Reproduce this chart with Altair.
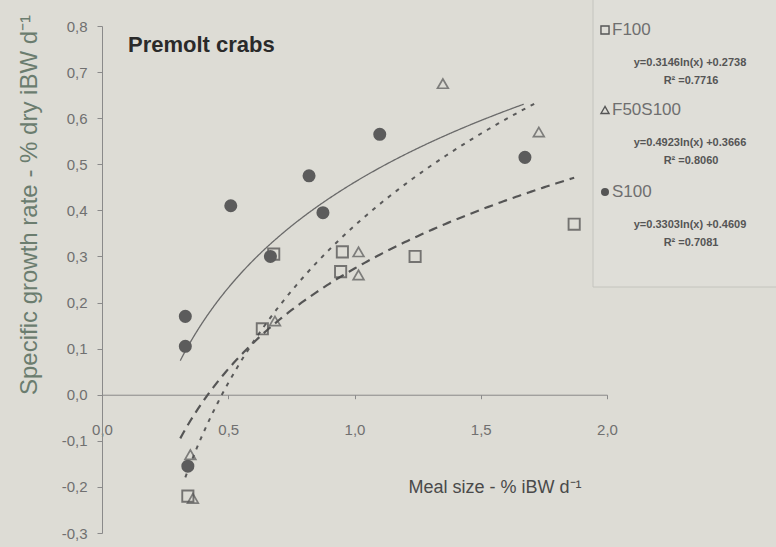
import altair as alt
import pandas as pd

# Premolt crabs: specific growth rate against meal size for three diets
f100_x = [0.68, 0.635, 0.945, 0.952, 1.24, 1.87, 0.34]
f100_y = [0.305, 0.143, 0.267, 0.31, 0.30, 0.37, -0.22]

f50s100_x = [1.35, 1.73, 1.016, 1.016, 0.685, 0.36, 0.35]
f50s100_y = [0.675, 0.57, 0.31, 0.26, 0.16, -0.225, -0.13]

s100_x = [0.33, 0.33, 0.51, 0.667, 0.82, 0.875, 1.10, 1.675, 0.34]
s100_y = [0.17, 0.105, 0.41, 0.30, 0.475, 0.395, 0.565, 0.515, -0.155]

# logarithmic fits y = a ln(x) + b
diets = ["F100", "F50S100", "S100"]
fit_a = [0.3146, 0.4923, 0.3303]
fit_b = [0.2738, 0.3666, 0.4609]
fit_r2 = [0.7716, 0.8060, 0.7081]
fit_from = [0.31, 0.33, 0.31]
fit_to = [1.87, 1.73, 1.67]

x_ticks = [0.0, 0.5, 1.0, 1.5, 2.0]
y_ticks = [-0.3, -0.2, -0.1, 0.0, 0.1, 0.2, 0.3, 0.4, 0.5, 0.6, 0.7, 0.8]

FONT = "Liberation Sans"
INK = "#555555"
W, H = 505, 507

xs = alt.Scale(domain=[0, 2.0], nice=False, zero=False)
ys = alt.Scale(domain=[-0.3, 0.8], nice=False, zero=False)
comma = "replace(replace(format(datum.value, '.1f'), '.', ','), '−', '-')"

x_axis = alt.Axis(values=x_ticks, labelExpr=comma, grid=False, title=None,
                  offset=-(H * 0.3 / 1.1), domainColor="#8a8a8a", tickColor="#8a8a8a",
                  tickSize=4, labelPadding=24, labelFont=FONT, labelFontSize=15,
                  labelColor="#707070", labelFlush=False)
y_axis = alt.Axis(values=y_ticks, labelExpr=comma, grid=False, title=None,
                  domainColor="#8a8a8a", tickColor="#8a8a8a", tickSize=5,
                  labelPadding=10, labelFont=FONT, labelFontSize=15,
                  labelColor="#707070", labelFlush=False)

X = alt.X("x:Q", scale=xs, axis=x_axis)
Y = alt.Y("y:Q", scale=ys, axis=y_axis)

pts = pd.concat([
    pd.DataFrame({"x": f100_x, "y": f100_y, "diet": "F100"}),
    pd.DataFrame({"x": f50s100_x, "y": f50s100_y, "diet": "F50S100"}),
    pd.DataFrame({"x": s100_x, "y": s100_y, "diet": "S100"}),
])

base = alt.Chart(pts)
squares = base.transform_filter("datum.diet == 'F100'").mark_point(
    shape="square", filled=False, size=125, strokeWidth=1.9, color="#484848"
).encode(x=X, y=Y)
triangles = base.transform_filter("datum.diet == 'F50S100'").mark_point(
    shape="triangle-up", filled=False, size=115, strokeWidth=1.7, color="#555555"
).encode(x=X, y=Y)
circles = base.transform_filter("datum.diet == 'S100'").mark_circle(
    size=170, opacity=1, color="#5c5c5c"
).encode(x=X, y=Y)


def fit_line(i, dash, width, color):
    return alt.Chart(alt.sequence(fit_from[i], fit_to[i] + 0.005, 0.01, as_="x")).transform_calculate(
        y=f"{fit_a[i]} * log(datum.x) + {fit_b[i]}"
    ).mark_line(strokeDash=dash, strokeWidth=width, color=color).encode(x=X, y=Y)


lines = [
    fit_line(0, [9, 6], 2.2, "#555555"),
    fit_line(1, [4, 6], 2.0, "#5a5a5a"),
    fit_line(2, [1, 0], 1.3, "#6a6a6a"),
]


def label(text, x, y, size=13, color=INK, weight="normal", align="left", angle=0, font=FONT):
    return alt.Chart(pd.DataFrame({"t": [text]})).mark_text(
        font=font, fontSize=size, color=color, fontWeight=weight, align=align,
        baseline="middle", angle=angle
    ).encode(text="t:N", x=alt.value(x), y=alt.value(y))


OX, OY = 102, 26  # plot origin in the page
texts = [
    label("Premolt crabs", 128 - OX, 45 - OY, size=22, color="#2a2a2a", weight="bold"),
    label("Meal size - % iBW d⁻¹", 495 - OX, 488 - OY, size=18, color="#4a4a4a", align="center"),
    label("Specific growth rate - % dry iBW d⁻¹", 30 - OX, 205 - OY, size=24,
          color="#6b7d6f", align="center", angle=270),
]

# legend panel with equations
frame = alt.Chart(pd.DataFrame({"a": [0]})).mark_rect(
    fill="#dfded8", stroke="#c4c4be", strokeWidth=1
).encode(x=alt.value(593 - OX), x2=alt.value(790 - OX), y=alt.value(-40), y2=alt.value(287 - OY))

legend_y = [30, 110, 192]
symbols = ["square", "triangle-up", "circle"]
legend_layers = [frame]
for i, d in enumerate(diets):
    ly = legend_y[i]
    legend_layers.append(
        alt.Chart(pd.DataFrame({"a": [0]})).mark_point(
            shape=symbols[i], filled=(i == 2), size=65, strokeWidth=1.4, color=INK,
            opacity=1
        ).encode(x=alt.value(605 - OX), y=alt.value(ly - OY))
    )
    legend_layers.append(label(d, 612 - OX, ly - OY, size=17, color="#6f6f6f"))
    eq = f"y=0.{int(round(fit_a[i] * 10000)):04d}ln(x) +0.{int(round(fit_b[i] * 10000)):04d}"
    legend_layers.append(label(eq, 690 - OX, ly + 33 - OY, size=11, color="#555555",
                               weight="bold", align="center"))
    legend_layers.append(label(f"R² =0.{int(round(fit_r2[i] * 10000)):04d}", 691 - OX,
                               ly + 51 - OY, size=11, color="#555555", weight="bold",
                               align="center"))

chart = alt.layer(
    *legend_layers, *lines, squares, triangles, circles, *texts
).properties(
    width=W, height=H,
    autosize=alt.AutoSizeParams(type="none"),
    padding={"left": OX, "top": OY, "right": 776 - OX - W, "bottom": 547 - OY - H},
    background="#dddcd5",
).configure_view(stroke=None)

chart.save("out.html", embed_options={"renderer": "svg", "actions": False})
